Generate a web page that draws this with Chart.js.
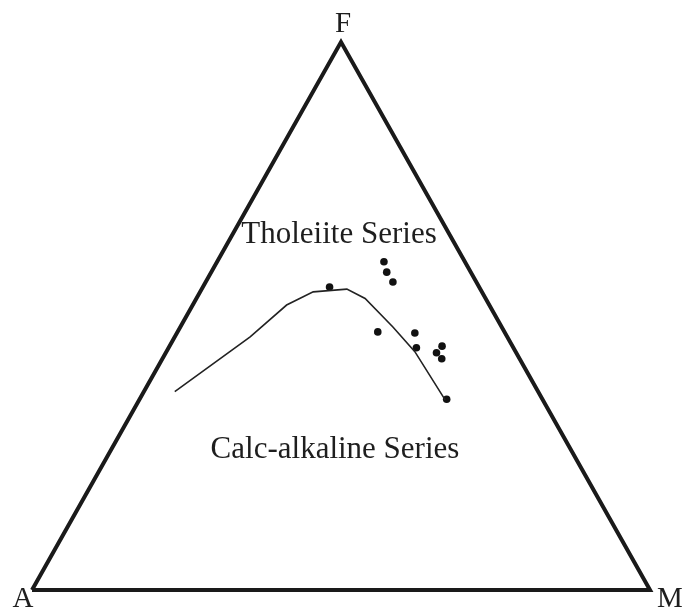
<!DOCTYPE html>
<html>
<head>
<meta charset="utf-8">
<title>AFM diagram</title>
<script src="https://cdn.jsdelivr.net/npm/chart.js@4/dist/chart.umd.min.js"></script>
<style>
  html, body { margin: 0; padding: 0; background: #ffffff; }
  canvas { display: block; }
</style>
</head>
<body>
<canvas id="afm" width="685" height="610"></canvas>
<script>
(function () {
  "use strict";

  // Ternary compositions, in percent: [A, F, M]
  const VERTICES = [[100, 0, 0], [0, 0, 100], [0, 100, 0], [100, 0, 0]];
  const VERTEX_LABELS = ["A", "M", "F"];

  // Tholeiite / calc-alkaline dividing line
  const BOUNDARY = [
    [58.8, 36.2, 5.0],
    [41.6, 46.2, 12.2],
    [32.8, 52.0, 15.2],
    [27.3, 54.4, 18.3],
    [21.6, 54.9, 23.5],
    [19.5, 53.2, 27.3],
    [17.6, 48.0, 34.4],
    [16.3, 43.5, 40.2],
    [15.8, 34.7, 49.5],
  ];

  // Sample analyses
  const SAMPLES = [
    [24.2, 55.3, 20.5],
    [13.1, 59.9, 27.0],
    [13.6, 58.0, 28.4],
    [13.5, 56.2, 30.3],
    [20.5, 47.1, 32.4],
    [14.6, 46.9, 38.5],
    [15.7, 44.2, 40.1],
    [11.4, 44.5, 44.1],
    [12.9, 43.3, 43.8],
    [12.6, 42.2, 45.2],
    [15.5, 34.8, 49.7],
  ];

  const SERIES_LABELS = ["Tholeiite Series", "Calc-alkaline Series"];

  // A at (0,0), M at (100,0), F at (50,100) in chart units
  function toXY(p) {
    const f = p[1], m = p[2];
    return { x: m + f / 2, y: f };
  }

  // pixel frame of the triangle inside the 685x610 canvas
  const W = 685, H = 610;
  const left = 32, right = 650, base = 590, apex = 42;
  const sx = (right - left) / 100, sy = (base - apex) / 100;
  const xMin = -left / sx, xMax = xMin + W / sx;
  const yMax = 100 + apex / sy, yMin = yMax - H / sy;

  const labelPlugin = {
    id: "afmLabels",
    afterDatasetsDraw(chart) {
      const ctx = chart.ctx;
      const xs = chart.scales.x, ys = chart.scales.y;
      ctx.save();
      ctx.fillStyle = "#1e1e1e";
      ctx.textAlign = "center";
      ctx.textBaseline = "alphabetic";

      ctx.font = '29px "Liberation Serif", "DejaVu Serif", serif';
      const a = toXY(VERTICES[0]), m = toXY(VERTICES[1]), f = toXY(VERTICES[2]);
      ctx.fillText(VERTEX_LABELS[0], xs.getPixelForValue(a.x) - 9, ys.getPixelForValue(a.y) + 17);
      ctx.fillText(VERTEX_LABELS[1], xs.getPixelForValue(m.x) + 20, ys.getPixelForValue(m.y) + 17);
      ctx.fillText(VERTEX_LABELS[2], xs.getPixelForValue(f.x) + 2, ys.getPixelForValue(f.y) - 10);

      ctx.font = '31px "Liberation Serif", "DejaVu Serif", serif';
      ctx.fillText(SERIES_LABELS[0], 339, 243);
      ctx.fillText(SERIES_LABELS[1], 335, 458);
      ctx.restore();
    },
  };

  new Chart(document.getElementById("afm"), {
    type: "scatter",
    data: {
      datasets: [
        {
          label: "Frame",
          data: VERTICES.map(toXY),
          showLine: true,
          borderColor: "#1a1a1a",
          borderWidth: 4,
          borderJoinStyle: "miter",
          pointRadius: 0,
          fill: false,
        },
        {
          label: "Boundary",
          data: BOUNDARY.map(toXY),
          showLine: true,
          borderColor: "#222222",
          borderWidth: 1.6,
          pointRadius: 0,
          tension: 0,
          fill: false,
        },
        {
          label: "Samples",
          data: SAMPLES.map(toXY),
          showLine: false,
          pointRadius: 3.8,
          pointBackgroundColor: "#111111",
          pointBorderColor: "#111111",
          pointBorderWidth: 0,
        },
      ],
    },
    options: {
      responsive: false,
      animation: false,
      layout: { padding: 0, autoPadding: false },
      plugins: { legend: { display: false }, tooltip: { enabled: false } },
      scales: {
        x: { type: "linear", min: xMin, max: xMax, display: false },
        y: { type: "linear", min: yMin, max: yMax, display: false },
      },
    },
    plugins: [labelPlugin],
  });
})();
</script>
</body>
</html>
